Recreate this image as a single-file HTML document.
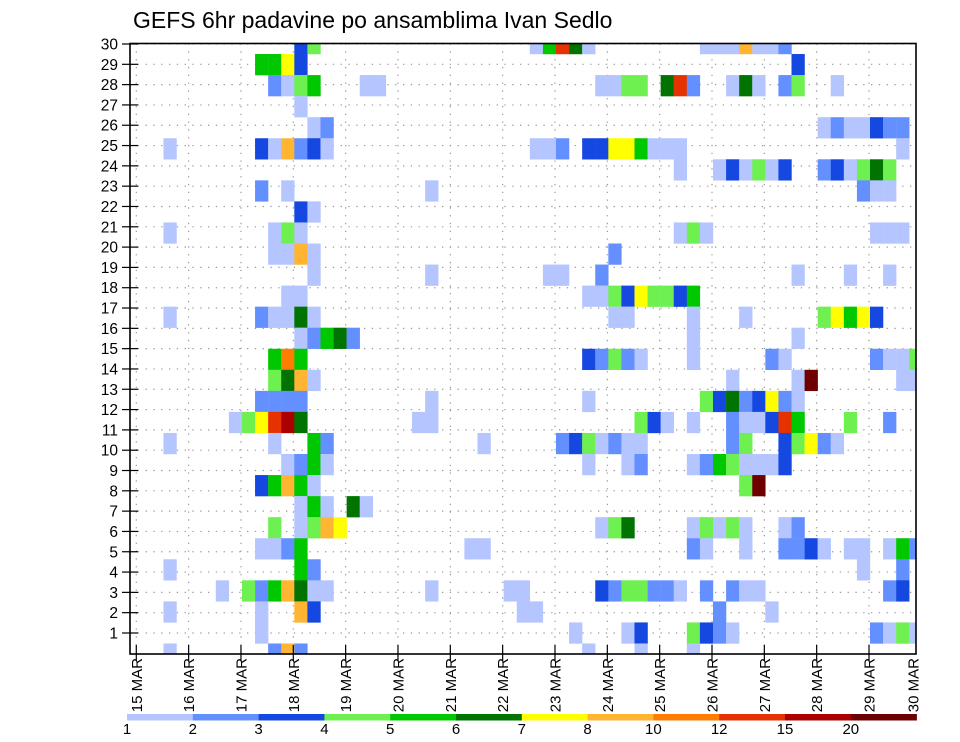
<!DOCTYPE html>
<html><head><meta charset="utf-8"><style>
html,body{margin:0;padding:0;background:#fff;}
svg{display:block;font-family:"Liberation Sans",sans-serif;}
</style></head><body>
<svg id="chart" width="960" height="742" viewBox="0 0 960 742" xmlns="http://www.w3.org/2000/svg">
<rect x="0" y="0" width="960" height="742" fill="#fff"/>
<text x="133" y="28" font-size="23" fill="#000">GEFS 6hr padavine po ansamblima Ivan Sedlo</text>
<defs><clipPath id="plotclip"><rect x="130" y="43.5" width="786" height="610.5"/></clipPath></defs>
<g id="grid"></g>
<g id="cells" clip-path="url(#plotclip)"></g>
<rect x="130" y="43.5" width="786" height="610.5" fill="none" stroke="#000" stroke-width="1.6"/>
<g id="yaxis"></g>
<g id="xaxis"></g>
<g id="colorbar"></g>
</svg>
<script>
// ---- data ----
const dayLabels = ["15 MAR","16 MAR","17 MAR","18 MAR","19 MAR","20 MAR","21 MAR","22 MAR","23 MAR","24 MAR","25 MAR","26 MAR","27 MAR","28 MAR","29 MAR","30 MAR"];
const yTickLabels = [1,2,3,4,5,6,7,8,9,10,11,12,13,14,15,16,17,18,19,20,21,22,23,24,25,26,27,28,29,30];
const levelBreaks = [1,2,3,4,5,6,7,8,10,12,15,20];
const levelColors = ["#b4c5ff","#6490ff","#1448e0","#6ef050","#00c800","#007300","#ffff00","#ffb432","#ff7d00","#e63200","#aa0000","#6e0000"];
// precip value (mm) for each code letter
const codeValues = {a:1.5,b:2.5,c:3.5,d:4.5,e:5.5,f:6.5,g:7.5,h:9,i:11,j:13,k:17,l:24};
// one string per ensemble row (top to bottom): "timeStep+code"
const memberRows = [
"12c 13d 30a 31e 32j 33f 34a 43a 44a 45a 46h 47a 48a 49b",
"9e 10e 11g 12c 50c",
"10b 11a 12d 13e 17a 18a 35a 36a 37d 38d 40f 41j 42b 45a 46f 47a 49b 50d 53a",
"12a",
"13a 14b 52a 53b 54a 55a 56c 57b 58b",
"2a 9c 10a 11h 12b 13c 14a 30a 31a 32b 34c 35c 36g 37g 38e 39a 40a 41a 58a",
"41a 44a 45c 46a 47d 48a 49c 52b 53c 54a 55d 56f 57d",
"9b 11a 22a 55b 56a 57a",
"12c 13a",
"2a 10a 11d 12a 41a 42d 43a 56a 57a 58a",
"10a 11a 12h 13a 36b",
"13a 22a 31a 32a 35b 50a 54a 57a",
"11a 12a 34a 35a 36d 37c 38g 39d 40d 41c 42e",
"2a 9b 10a 11a 12f 13a 36a 37a 42a 46a 52d 53g 54e 55g 56c",
"12a 13b 14e 15f 16b 42a 50a",
"10e 11i 12e 34c 35b 36d 37b 38a 42a 48b 49a 56b 57a 58a 59d",
"10d 11f 12h 13a 45a 50a 51l 58a 59a",
"9b 10b 11b 12b 22a 34a 43d 44c 45f 46b 47c 48g 49b 50a",
"7a 8d 9g 10j 11k 12f 21a 22a 38d 39c 40a 42a 45b 46a 47a 48c 49j 50e 54d 57b",
"2a 10a 13e 14b 26a 32b 33c 34d 35a 36b 37a 38a 45b 46d 49c 50d 51g 52b 53a",
"11a 12b 13e 14a 34a 37a 38b 42a 43b 44e 45d 46a 47a 48a 49c",
"9c 10e 11h 12e 13a 46d 47l",
"12a 13e 14a 16f 17a",
"10d 12a 13d 14h 15g 35a 36d 37f 42a 43d 44a 45d 46a 49a 50b",
"9a 10a 11b 12e 25a 26a 42b 43a 46a 49b 50b 51c 52a 54a 55a 57a 58e 59b",
"2a 12e 13b 55a 58b",
"6a 8d 9b 10e 11h 12f 13a 14a 22a 28a 29a 35c 36b 37d 38d 39b 40b 41a 43b 45b 46a 47a 57b 58c",
"2a 9a 12h 13c 29a 30a 44b 48a",
"9a 33a 37a 38c 42d 43c 44b 45a 56b 57a 58d 59a",
"2a 10b 11h 12b 34a 38a 42a"
];
// ---- scales ----
const NS="http://www.w3.org/2000/svg";
const X0=137.3, DX=13.084;           // 6h step width
const Y0=43.5, DY=610.5/29;          // member row spacing
function xStep(k){return X0+DX*k;}
function xDay(d){return X0+DX*4*d;}
function yRow(j){return Y0+DY*j;}
function yTick(n){return 653.3-20.31*n;}
function colorFor(v){let c=null;for(let i=0;i<levelBreaks.length;i++){if(v>=levelBreaks[i])c=levelColors[i];}return c;}
function mk(tag,attrs,parent){const e=document.createElementNS(NS,tag);for(const a in attrs)e.setAttribute(a,attrs[a]);parent.appendChild(e);return e;}

// grid
const grid=document.getElementById('grid');
for(let n=1;n<=30;n++){
  const l=mk('line',{x1:130,x2:916,y1:yTick(n),y2:yTick(n),stroke:'#999','stroke-width':1.2,'stroke-dasharray':'1.3 6.5'},grid);
  
  
}
for(let d=0;d<15;d++){
  const l=mk('line',{x1:xDay(d)-1,x2:xDay(d)-1,y1:43.5,y2:654,stroke:'#999','stroke-width':1.2,'stroke-dasharray':'1.3 6.5'},grid);
  
  
}
// cells
const cells=document.getElementById('cells');
memberRows.forEach((row,j)=>{
  row.trim().split(/\s+/).forEach(tok=>{
    const k=parseInt(tok,10), code=tok.replace(/[0-9]/g,'');
    const v=codeValues[code]; const col=colorFor(v); if(!col)return;
    const r=mk('rect',{x:xStep(k),y:yRow(j)-DY/2,width:DX+0.2,height:DY+0.2,fill:col},cells);
    
    
  });
});
// y axis
const ya=document.getElementById('yaxis');
yTickLabels.forEach(n=>{
  const t=mk('line',{x1:122,x2:138,y1:yTick(n),y2:yTick(n),stroke:'#000','stroke-width':1.2},ya);
  
  
  const tx=mk('text',{x:118,y:yTick(n)+5.5,'font-size':15.5,'text-anchor':'end',fill:'#000'},ya);
  tx.textContent=n;
  
  
});
// x axis
const xa=document.getElementById('xaxis');
dayLabels.forEach((lab,d)=>{
  let x=xDay(d)-1;
  if(d<15){
    const t=mk('line',{x1:x,x2:x,y1:645,y2:661,stroke:'#000','stroke-width':1.2},xa);
    
    
  } else x=913;
  const tx=mk('text',{x:0,y:0,'font-size':15,'text-anchor':'end',fill:'#000',transform:'translate('+(x+5.5)+',658) rotate(-90)'},xa);
  tx.textContent=lab;
  
  
});
// colorbar
const cb=document.getElementById('colorbar');
const CB0=127, CBW=65.8;
levelColors.forEach((c,i)=>{
  const r=mk('rect',{x:CB0+CBW*i,y:714,width:CBW+0.3,height:6.5,fill:c},cb);
  
  
});
levelBreaks.forEach((b,i)=>{
  const tx=mk('text',{x:CB0+CBW*i,y:734,'font-size':15,'text-anchor':'middle',fill:'#000'},cb);
  tx.textContent=b;
  
  
});
</script>
</body></html>
